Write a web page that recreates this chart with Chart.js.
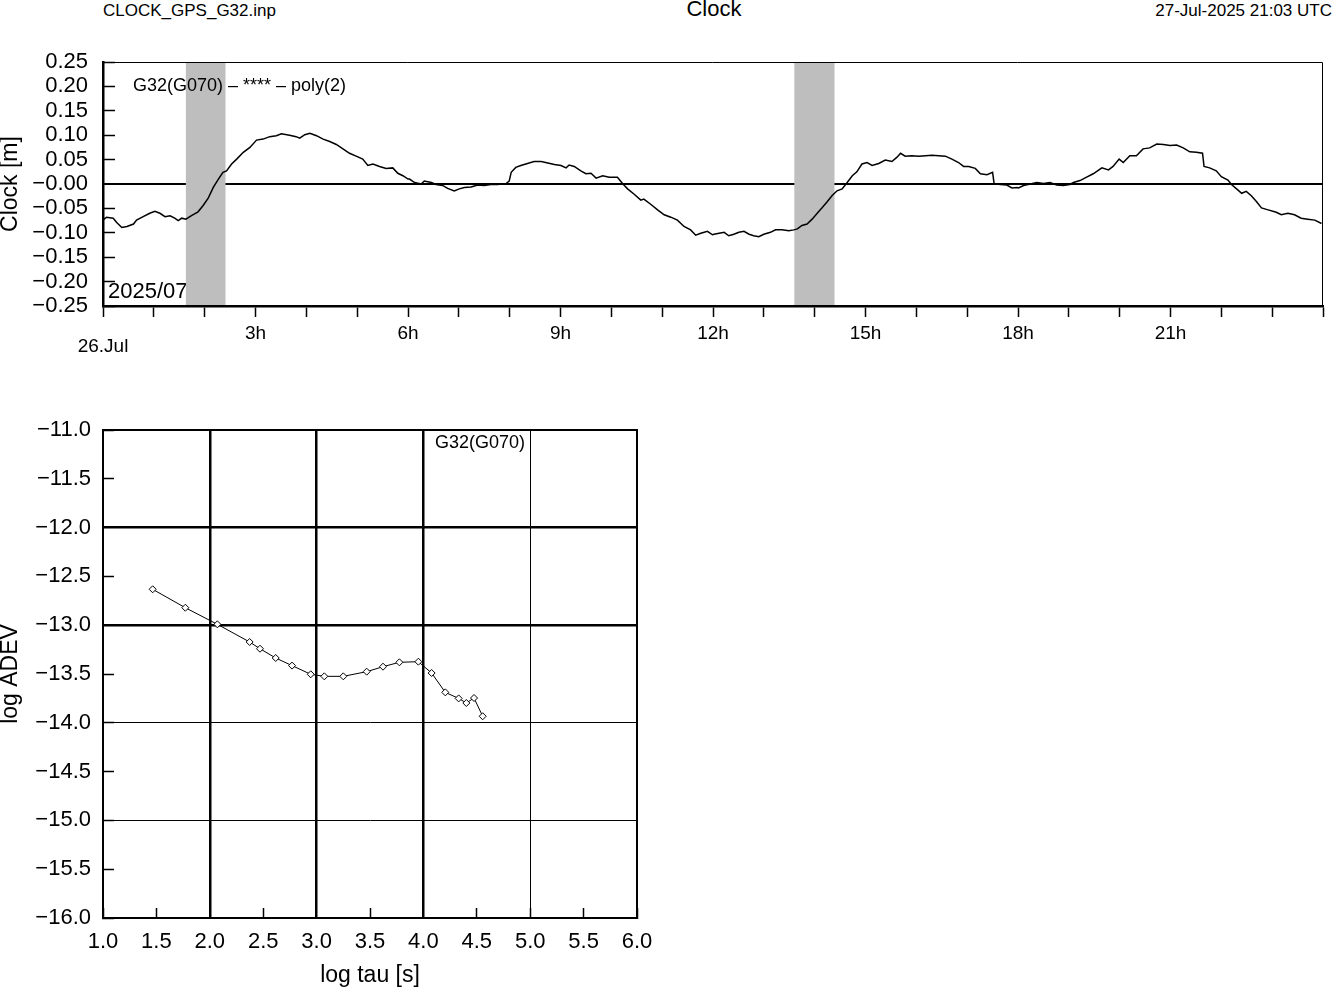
<!DOCTYPE html>
<html>
<head>
<meta charset="utf-8">
<script src="https://cdn.jsdelivr.net/npm/chart.js@4.4.1/dist/chart.umd.min.js"></script>
<style>
  body { margin: 0; background: #fff; width: 1333px; height: 989px; position: relative; overflow: hidden;
         font-family: "Liberation Sans", Arial, sans-serif; color: #000; }
  .hdr { position: absolute; font-size: 17px; line-height: 20px; white-space: nowrap; }
  canvas { position: absolute; left: 0; }
</style>
</head>
<body>
<div class="hdr" style="left:103px; top:1px">CLOCK_GPS_G32.inp</div>
<div class="hdr" style="left:614px; width:200px; top:-1px; text-align:center; font-size:22px">Clock</div>
<div class="hdr" style="right:1px; top:1px">27-Jul-2025 21:03 UTC</div>
<canvas id="clock" width="1333" height="370" style="top:0"></canvas>
<canvas id="adev" width="700" height="609" style="top:380px"></canvas>
<script>
// clock residuals, hours since 26.Jul 00:00 and metres
const clockHours = [
  0.01,0.07,0.20,0.27,0.37,0.47,0.60,0.66,0.79,0.92,1.02,1.12,1.22,1.32,1.41,1.48,1.55,1.63,1.74,1.87,
  1.97,2.07,2.17,2.27,2.36,2.43,2.53,2.63,2.76,2.89,3.02,3.15,3.28,3.41,3.51,3.67,3.80,3.87,3.97,4.07,
  4.20,4.33,4.46,4.59,4.72,4.85,4.98,5.11,5.21,5.31,5.44,5.57,5.70,5.80,5.90,6.00,
  6.03,6.13,6.26,6.32,6.46,6.55,6.68,6.78,6.91,7.01,7.11,7.24,7.37,7.50,7.63,7.76,7.93,7.99,8.03,8.12,
  8.22,8.35,8.48,8.62,8.75,8.88,9.01,9.11,9.17,9.27,9.40,9.50,9.60,9.70,9.83,9.96,10.12,10.22,10.32,10.45,
  10.58,10.64,10.78,10.91,11.04,11.17,11.30,11.43,11.56,11.66,11.76,11.89,11.99,
  12.02,12.12,12.22,12.31,12.41,12.51,12.61,12.71,12.80,12.90,13.00,13.13,13.23,13.36,13.49,13.59,13.66,13.75,13.85,13.95,
  14.05,14.15,14.25,14.34,14.44,14.54,14.64,14.74,14.83,14.93,15.03,15.13,15.26,15.39,15.52,15.62,15.69,15.78,15.91,16.05,
  16.18,16.31,16.44,16.57,16.70,16.83,16.93,17.03,17.16,17.26,17.39,17.50,17.53,17.65,17.78,17.88,17.98,
  18.01,18.11,18.24,18.37,18.50,18.63,18.76,18.89,19.02,19.09,19.22,19.35,19.48,19.65,19.78,19.87,19.99,20.07,20.20,20.33,
  20.46,20.59,20.73,20.86,20.99,21.12,21.25,21.38,21.51,21.63,21.66,21.77,21.90,22.00,22.13,22.20,22.30,22.40,22.49,22.59,
  22.69,22.79,22.92,23.08,23.18,23.31,23.44,23.57,23.70,23.84,23.97
];
const clockValues = [
  -0.073,-0.068,-0.070,-0.079,-0.089,-0.087,-0.082,-0.074,-0.067,-0.060,-0.056,-0.060,-0.067,-0.065,-0.070,-0.075,-0.070,-0.072,-0.065,-0.057,
  -0.044,-0.029,-0.007,0.010,0.024,0.027,0.041,0.051,0.065,0.075,0.090,0.092,0.097,0.099,0.103,0.100,0.097,0.094,0.101,0.104,
  0.099,0.092,0.087,0.081,0.072,0.063,0.057,0.051,0.038,0.041,0.036,0.032,0.033,0.022,0.017,0.010,
  0.010,0.003,0.000,0.006,0.003,-0.001,-0.003,-0.009,-0.014,-0.010,-0.007,-0.006,-0.002,-0.003,-0.001,-0.001,0.001,0.006,0.024,0.034,
  0.038,0.042,0.046,0.046,0.043,0.040,0.038,0.033,0.039,0.036,0.027,0.021,0.022,0.012,0.017,0.014,0.014,0.001,-0.010,-0.021,
  -0.033,-0.031,-0.042,-0.053,-0.063,-0.068,-0.074,-0.087,-0.094,-0.105,-0.101,-0.097,-0.104,
  -0.103,-0.101,-0.099,-0.106,-0.103,-0.099,-0.097,-0.103,-0.106,-0.108,-0.103,-0.099,-0.094,-0.094,-0.096,-0.094,-0.092,-0.085,-0.082,-0.072,
  -0.060,-0.048,-0.036,-0.024,-0.014,-0.010,0.003,0.017,0.025,0.041,0.044,0.038,0.042,0.049,0.046,0.055,0.063,0.057,0.058,0.057,
  0.058,0.059,0.058,0.057,0.051,0.044,0.036,0.036,0.032,0.021,0.019,0.024,0.001,-0.001,-0.002,-0.008,-0.007,
  -0.008,-0.003,0.000,0.003,0.001,0.003,-0.002,-0.003,-0.001,0.003,0.007,0.014,0.021,0.033,0.029,0.036,0.051,0.044,0.058,0.058,
  0.072,0.074,0.082,0.081,0.079,0.080,0.074,0.066,0.065,0.063,0.036,0.033,0.027,0.015,0.008,-0.001,-0.010,-0.019,-0.015,-0.024,
  -0.036,-0.049,-0.053,-0.058,-0.063,-0.060,-0.063,-0.070,-0.072,-0.074,-0.081
];
// grey bands (hours)
const gapStart = [1.63, 13.60];
const gapEnd = [2.41, 14.39];

const timeTickHours = [3, 6, 9, 12, 15, 18, 21];
const timeTickText = ['3h', '6h', '9h', '12h', '15h', '18h', '21h'];
const dateLabel = '26.Jul';
const clockTickLabels = ['\u22120.25','\u22120.20','\u22120.15','\u22120.10','\u22120.05','\u22120.00','0.05','0.10','0.15','0.20','0.25'];

// Allan deviation
const tauLog = [1.465,1.771,2.071,2.373,2.470,2.617,2.770,2.945,3.072,3.250,3.469,3.622,3.775,3.953,4.077,4.205,4.330,4.402,4.474,4.555];
const adevLog = [-12.632,-12.821,-12.991,-13.172,-13.241,-13.336,-13.414,-13.503,-13.524,-13.524,-13.476,-13.425,-13.380,-13.374,-13.490,-13.688,-13.750,-13.797,-13.746,-13.933];
const tauTickLabels = ['1.0','1.5','2.0','2.5','3.0','3.5','4.0','4.5','5.0','5.5','6.0'];
const adevTickLabels = ['\u221216.0','\u221215.5','\u221215.0','\u221214.5','\u221214.0','\u221213.5','\u221213.0','\u221212.5','\u221212.0','\u221211.5','\u221211.0'];
const tauGrid = [2, 3, 4, 5], tauThick = [2, 3, 4];
const adevGrid = [-15, -14, -13, -12], adevThick = [-13, -12];

const FONT = '"Liberation Sans", Arial, sans-serif';
Chart.defaults.font.family = FONT;
Chart.defaults.color = '#000';

const clockPlugin = {
  id: 'clockExtras',
  beforeDatasetsDraw(chart) {
    const {ctx, chartArea: a, scales: {x}} = chart;
    ctx.save();
    ctx.font = '22px ' + FONT;
    ctx.fillStyle = '#000';
    ctx.textBaseline = 'middle';
    ctx.fillText('2025/07/26', a.left + 5, a.bottom - 14);
    ctx.fillStyle = '#bebebe';
    for (let i = 0; i < gapStart.length; i++) {
      const x0 = x.getPixelForValue(gapStart[i]), x1 = x.getPixelForValue(gapEnd[i]);
      ctx.fillRect(x0, a.top, x1 - x0, a.bottom - a.top);
    }
    ctx.restore();
  },
  afterDraw(chart) {
    const {ctx, chartArea: a} = chart;
    ctx.save();
    ctx.strokeStyle = '#000';
    ctx.lineWidth = 1;
    ctx.beginPath();
    ctx.moveTo(a.left, a.top + 0.5);
    ctx.lineTo(a.right - 0.5, a.top + 0.5);
    ctx.lineTo(a.right - 0.5, a.bottom);
    ctx.stroke();
    ctx.font = '18px ' + FONT;
    ctx.fillStyle = '#000';
    ctx.textBaseline = 'middle';
    ctx.fillText('G32(G070) \u2013 **** \u2013 poly(2)', a.left + 30, chart.scales.y.getPixelForValue(0.20));
    ctx.restore();
  }
};

new Chart(document.getElementById('clock'), {
  type: 'line',
  data: {
    datasets: [{
      data: clockHours.map((h, i) => ({x: h, y: clockValues[i]})),
      borderColor: '#000',
      borderWidth: 1.5,
      pointRadius: 0,
      tension: 0,
      fill: false
    }]
  },
  options: {
    responsive: false,
    animation: false,
    layout: {padding: {left: 0, right: 8, top: 62, bottom: 0}},
    plugins: {legend: {display: false}, tooltip: {enabled: false}},
    scales: {
      x: {
        type: 'linear', min: 0, max: 24,
        afterFit(s) { s.height = 64; },
        ticks: {
          stepSize: 1, autoSkip: false, maxRotation: 0, padding: 10,
          font: {size: 19, lineHeight: 0.7},
          callback(v) {
            if (v === 0) return ['', dateLabel];
            const k = timeTickHours.indexOf(v);
            return k >= 0 ? timeTickText[k] : '';
          }
        },
        grid: {drawOnChartArea: false, tickLength: 11, tickColor: '#000', tickWidth: 1.5},
        border: {color: '#000', width: 2.5, z: 1}
      },
      y: {
        min: -0.25, max: 0.25,
        afterFit(s) { s.width = 103; },
        ticks: {
          stepSize: 0.05, autoSkip: false, padding: 27, font: {size: 22},
          callback: (v) => clockTickLabels[Math.round((v + 0.25) / 0.05)]
        },
        grid: {
          tickLength: -12, tickColor: '#000', tickWidth: 1.5,
          color: (c) => Math.abs(c.tick.value) < 1e-6 ? '#000' : 'rgba(0,0,0,0)',
          lineWidth: (c) => Math.abs(c.tick.value) < 1e-6 ? 2 : 1
        },
        border: {color: '#000', width: 2.5, z: 1},
        title: {display: true, text: 'Clock [m]', font: {size: 23, lineHeight: 0.9}, padding: 0}
      }
    }
  },
  plugins: [clockPlugin]
});

const adevPlugin = {
  id: 'adevExtras',
  afterDraw(chart) {
    const {ctx, chartArea: a} = chart;
    ctx.save();
    ctx.strokeStyle = '#000';
    ctx.lineWidth = 2;
    ctx.beginPath();
    ctx.moveTo(a.left, a.top);
    ctx.lineTo(a.right, a.top);
    ctx.lineTo(a.right, a.bottom);
    ctx.stroke();
    ctx.font = '18px ' + FONT;
    ctx.fillStyle = '#000';
    ctx.textAlign = 'center';
    ctx.textBaseline = 'middle';
    ctx.fillText('G32(G070)', chart.scales.x.getPixelForValue(4.53), a.top + 13);
    ctx.restore();
  }
};

new Chart(document.getElementById('adev'), {
  type: 'line',
  data: {
    datasets: [{
      data: tauLog.map((t, i) => ({x: t, y: adevLog[i]})),
      borderColor: '#000',
      borderWidth: 1,
      pointStyle: 'rectRot',
      pointRadius: 3.5,
      pointBackgroundColor: '#fff',
      pointBorderColor: '#000',
      pointBorderWidth: 1,
      tension: 0
    }]
  },
  options: {
    responsive: false,
    animation: false,
    layout: {padding: {left: 0, right: 63, top: 50, bottom: 0}},
    plugins: {legend: {display: false}, tooltip: {enabled: false}},
    scales: {
      x: {
        type: 'linear', min: 1, max: 6,
        afterFit(s) { s.height = 71; },
        ticks: {
          stepSize: 0.5, autoSkip: false, maxRotation: 0, padding: 21, font: {size: 22},
          callback: (v) => tauTickLabels[Math.round((v - 1) / 0.5)]
        },
        grid: {
          tickLength: -10, tickColor: '#000', tickWidth: 1.5,
          color: (c) => tauGrid.includes(c.tick.value) ? '#000' : 'rgba(0,0,0,0)',
          lineWidth: (c) => tauThick.includes(c.tick.value) ? 2.5 : 1
        },
        border: {color: '#000', width: 2, z: 1},
        title: {display: true, text: 'log tau [s]', font: {size: 23}, padding: {top: 0, bottom: 0}}
      },
      y: {
        min: -16, max: -11,
        afterFit(s) { s.width = 103; },
        ticks: {
          stepSize: 0.5, autoSkip: false, padding: 23, font: {size: 22},
          callback: (v) => adevTickLabels[Math.round((v + 16) / 0.5)]
        },
        grid: {
          tickLength: -11, tickColor: '#000', tickWidth: 1.5,
          color: (c) => adevGrid.includes(c.tick.value) ? '#000' : 'rgba(0,0,0,0)',
          lineWidth: (c) => adevThick.includes(c.tick.value) ? 2.5 : 1
        },
        border: {color: '#000', width: 2, z: 1},
        title: {display: true, text: 'log ADEV', font: {size: 23, lineHeight: 0.9}, padding: 0}
      }
    }
  },
  plugins: [adevPlugin]
});
</script>
</body>
</html>
